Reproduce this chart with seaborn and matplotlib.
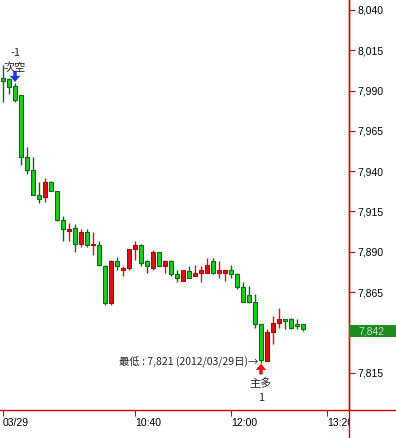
import matplotlib
matplotlib.use("Agg")
import numpy as np
import pandas as pd
import matplotlib.pyplot as plt
import seaborn as sns
from matplotlib.patches import Rectangle

# 5-min bars, 2012/03/29 (red = up, green = down)
opens  = [7998, 7997, 7993, 7987, 7949, 7941, 7925, 7924, 7933, 7928,
          7910, 7903, 7905, 7895, 7902, 7894, 7894, 7881, 7858, 7884,
          7879, 7880, 7892, 7894, 7884, 7880, 7890, 7881, 7884, 7876,
          7872, 7878, 7875, 7877, 7877, 7884, 7877, 7877, 7879, 7876,
          7868, 7863, 7859, 7845, 7822, 7840, 7846, 7848, 7848, 7845,
          7845]
highs  = [8006, 7998, 7995, 7987, 7955, 7949, 7933, 7936, 7934, 7928,
          7912, 7908, 7907, 7904, 7904, 7902, 7897, 7882, 7885, 7887,
          7881, 7892, 7897, 7895, 7885, 7891, 7890, 7885, 7885, 7879,
          7879, 7881, 7882, 7881, 7886, 7886, 7884, 7879, 7882, 7877,
          7871, 7869, 7864, 7845, 7842, 7850, 7855, 7848, 7849, 7848,
          7845]
lows   = [7983, 7988, 7983, 7944, 7938, 7925, 7920, 7921, 7928, 7909,
          7897, 7897, 7890, 7893, 7893, 7888, 7881, 7857, 7857, 7879,
          7875, 7879, 7885, 7881, 7877, 7879, 7881, 7877, 7875, 7871,
          7872, 7874, 7875, 7871, 7877, 7876, 7874, 7872, 7874, 7867,
          7859, 7858, 7843, 7821, 7822, 7833, 7843, 7842, 7842, 7842,
          7841]
closes = [7996, 7992, 7984, 7949, 7941, 7925, 7923, 7933, 7928, 7910,
          7904, 7904, 7895, 7902, 7894, 7895, 7882, 7858, 7884, 7881,
          7880, 7892, 7894, 7883, 7881, 7890, 7881, 7884, 7876, 7874,
          7879, 7874, 7877, 7879, 7882, 7877, 7879, 7879, 7876, 7868,
          7859, 7859, 7845, 7823, 7840, 7846, 7848, 7847, 7843, 7844,
          7842]

x_tick_pos = [0, 22, 38, 54]
x_tick_labels = ["03/29", "10:40", "12:00", "13:20"]
y_ticks = list(range(7815, 8041, 25))
last_price = 7842

df = pd.DataFrame({"open": opens, "high": highs, "low": lows, "close": closes})
df["i"] = np.arange(len(df))
df["up"] = df["close"] >= df["open"]

sns.set_theme(style="white")
plt.rcParams["font.family"] = ["Liberation Sans", "Noto Sans CJK TC", "DejaVu Sans"]
cjk = ["Noto Sans CJK TC", "DejaVu Sans"]

W, H = 396, 438
fig = plt.figure(figsize=(W / 100, H / 100), dpi=100)
fig.patch.set_facecolor("white")
ax_right = 349 / W
ax_bottom = (H - 410) / H
ax = fig.add_axes([0, ax_bottom, ax_right, 1 - ax_bottom])
ax.set_facecolor("white")

red_edge, red_fill = "#b00000", "#dd1111"
grn_edge, grn_fill = "#007000", "#22cc22"

for up, fill, edge in [(True, red_fill, red_edge), (False, grn_fill, grn_edge)]:
    d = df[df["up"] == up]
    ax.vlines(d["i"], d["low"], d["high"], color=edge if not up else red_fill,
              linewidth=1.0, zorder=2)
    body = (d["close"] - d["open"]).abs().clip(lower=0.7)
    bottom = d[["open", "close"]].min(axis=1)
    ax.bar(d["i"], body, bottom=bottom, width=0.62, color=fill,
           edgecolor=edge, linewidth=0.8, zorder=3)

ax.set_xlim(-0.5, (349 - 3) / 6)
ax.set_ylim(8046.2 - 0.62035 * 410, 8046.2)

# axes / spines
for s in ["left", "top"]:
    ax.spines[s].set_visible(False)
for s in ["right", "bottom"]:
    ax.spines[s].set_color("#cc0000")
    ax.spines[s].set_linewidth(1.0)
ax.plot([1, 1], [-ax_bottom / (1 - ax_bottom), 1], transform=ax.transAxes,
        color="#cc0000", linewidth=1.0, clip_on=False, zorder=10)
ax.plot([1, 1 + (W - 349) / 349], [0, 0], transform=ax.transAxes,
        color="#cc0000", linewidth=1.0, clip_on=False, zorder=10)

ax.yaxis.tick_right()
ax.set_yticks(y_ticks)
# the 7,840 label sits under the last-price box
ax.set_yticklabels(["" if v == 7840 else f"{v:,}" for v in y_ticks])
ax.tick_params(axis="y", direction="out", length=4, width=0.8, color="#cc0000",
               pad=2, labelsize=7.5, labelcolor="black", right=True, left=False)
ax.set_xticks(x_tick_pos)
ax.set_xticklabels(x_tick_labels)
ax.tick_params(axis="x", direction="out", length=4, width=0.8, color="#cc0000",
               pad=2, labelsize=7.5, labelcolor="black", bottom=True)
clip_rect = Rectangle((0, 0), ax_right, 1, transform=fig.transFigure)
for lab in ax.get_xticklabels():
    lab.set_horizontalalignment("left")
    lab.set_clip_path(clip_rect)
ax.grid(False)

# signals
ax.annotate("", xy=(2, 7995.3), xytext=(2, 8002.2),
            arrowprops=dict(facecolor="#1a3adc", edgecolor="none", width=2.5,
                            headwidth=7.5, headlength=4.5, shrink=0))
ax.text(2, 8004.4, "次空", ha="center", va="center", fontsize=8, family=cjk)
ax.text(2, 8013.2, "-1", ha="center", va="center", fontsize=8, family=cjk)

ax.annotate("", xy=(43, 7820.6), xytext=(43, 7813.8),
            arrowprops=dict(facecolor="#ee1111", edgecolor="none", width=2.5,
                            headwidth=7.5, headlength=4.5, shrink=0))
ax.text(43, 7808.2, "主多", ha="center", va="center", fontsize=8, family=cjk)
ax.text(43, 7799.2, "1", ha="center", va="center", fontsize=8, family=cjk)

low_i = int(np.argmin(lows))
ax.text(low_i - 0.45, lows[low_i] + 0.6, f"最低 : {lows[low_i]:,} (2012/03/29日)→",
        ha="right", va="center", fontsize=7.5, family=cjk)

# last price box
fig.patches.append(Rectangle((ax_right, (H - 337) / H), 1 - ax_right, 12 / H,
                             transform=fig.transFigure, facecolor="#1e8c1e",
                             edgecolor="none", zorder=20))
fig.text(358 / W, (H - 331) / H, f"{last_price:,}", ha="left", va="center",
         fontsize=7.5, color="#d0d8d0", zorder=21)

fig.savefig("out.png", dpi=100, facecolor="white")
